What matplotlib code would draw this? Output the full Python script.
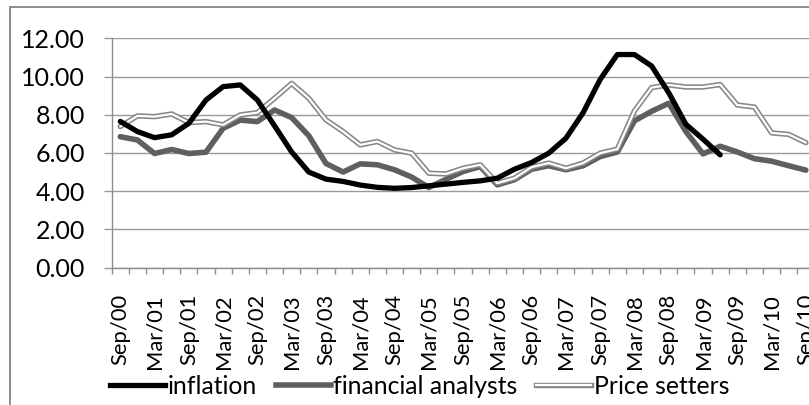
import matplotlib
matplotlib.use("Agg")
import matplotlib.pyplot as plt
import matplotlib.patches as mpatches
from matplotlib.lines import Line2D
from matplotlib.legend_handler import HandlerTuple
import numpy as np

# Quarterly observations, Sep/00 .. Sep/10
quarters = [
    "Sep/00", "Dec/00", "Mar/01", "Jun/01", "Sep/01", "Dec/01", "Mar/02", "Jun/02",
    "Sep/02", "Dec/02", "Mar/03", "Jun/03", "Sep/03", "Dec/03", "Mar/04", "Jun/04",
    "Sep/04", "Dec/04", "Mar/05", "Jun/05", "Sep/05", "Dec/05", "Mar/06", "Jun/06",
    "Sep/06", "Dec/06", "Mar/07", "Jun/07", "Sep/07", "Dec/07", "Mar/08", "Jun/08",
    "Sep/08", "Dec/08", "Mar/09", "Jun/09", "Sep/09", "Dec/09", "Mar/10", "Jun/10",
    "Sep/10",
]

inflation = [
    7.65, 7.12, 6.80, 6.95, 7.55, 8.77, 9.47, 9.56, 8.77, 7.42,
    6.05, 5.00, 4.63, 4.51, 4.32, 4.20, 4.15, 4.19, 4.28, 4.37,
    4.46, 4.54, 4.68, 5.15, 5.50, 5.99, 6.77, 8.10, 9.85, 11.15,
    11.15, 10.55, 9.15, 7.50, 6.72, 5.90,
]

financial_analysts = [
    6.85, 6.68, 5.97, 6.18, 5.97, 6.04, 7.29, 7.72, 7.64, 8.25,
    7.85, 6.90, 5.45, 5.00, 5.43, 5.38, 5.12, 4.74, 4.19, 4.62,
    5.03, 5.29, 4.33, 4.60, 5.15, 5.33, 5.12, 5.33, 5.81, 6.05,
    7.68, 8.18, 8.60, 7.12, 5.95, 6.35, 6.05, 5.70, 5.57, 5.33,
    5.10,
]

price_setters = [
    7.38, 7.94, 7.90, 8.04, 7.59, 7.64, 7.47, 7.99, 8.11, 8.86,
    9.64, 8.86, 7.73, 7.12, 6.42, 6.60, 6.16, 5.99, 4.94, 4.90,
    5.20, 5.38, 4.42, 4.68, 5.26, 5.47, 5.20, 5.47, 5.99, 6.20,
    8.20, 9.42, 9.56, 9.45, 9.45, 9.58, 8.51, 8.40, 7.05, 6.97,
    6.54,
]

y_ticks = [0, 2, 4, 6, 8, 10, 12]

plt.rcParams["font.family"] = ["Lato", "DejaVu Sans"]
FS_Y = 18.0
FS_X = 15.8
FS_LEG = 17.8

W, H = 809, 405
fig = plt.figure(figsize=(W / 100, H / 100), dpi=100)

# plot area (the category axis runs slightly past the right edge)
left_px, right_px = 111.7, 111.7 + 41 * 17.14
top_px, bottom_px = 38.3, 267.6
ax = fig.add_axes([left_px / W, 1 - bottom_px / H,
                   (right_px - left_px) / W, (bottom_px - top_px) / H])

grid_c = "#9a9a9a"
axis_c = "#8c8c8c"

x_all = np.arange(len(quarters))

ax.plot(x_all[:len(financial_analysts)], financial_analysts, color="#5f5f5f",
        lw=4.0, solid_joinstyle="round", solid_capstyle="round", zorder=3)
ax.plot(x_all[:len(price_setters)], price_setters, color="#878787",
        lw=3.9, solid_joinstyle="round", solid_capstyle="round", zorder=4)
ax.plot(x_all[:len(price_setters)], price_setters, color="white",
        lw=1.6, solid_joinstyle="round", solid_capstyle="round", zorder=5)
ax.plot(x_all[:len(inflation)], inflation, color="black",
        lw=3.8, solid_joinstyle="round", solid_capstyle="round", zorder=6)

ax.set_xlim(-0.5, len(quarters) - 0.5)
ax.set_ylim(y_ticks[0], y_ticks[-1])

ax.set_yticks(y_ticks)
ax.set_yticklabels([f"{v:.2f}" for v in y_ticks], fontsize=FS_Y)
ax.yaxis.grid(True, color=grid_c, lw=1.0)
ax.set_axisbelow(True)
ax.tick_params(axis="y", length=5.8, width=1.0, color=grid_c, pad=13.4)

# tick marks between categories, labels every second quarter
ax.set_xticks(np.arange(-0.5, len(quarters), 1.0))
ax.set_xticklabels([])
ax.tick_params(axis="x", which="major", length=4.3, width=1.0, color=axis_c)
ax.set_xticks(x_all[::2], minor=True)
ax.set_xticklabels(quarters[::2], minor=True, rotation=90, fontsize=FS_X)
ax.tick_params(axis="x", which="minor", length=0, pad=19.0)

for s in ("top", "right"):
    ax.spines[s].set_visible(False)
for s in ("left", "bottom"):
    ax.spines[s].set_color(axis_c)
    ax.spines[s].set_linewidth(1.0)

# legend
h_inf = Line2D([], [], color="black", lw=3.8)
h_fa = Line2D([], [], color="#5f5f5f", lw=4.0)
h_ps = (Line2D([], [], color="#878787", lw=3.9), Line2D([], [], color="white", lw=1.6))
fig.legend([h_inf, h_fa, h_ps], ["inflation", "financial analysts", "Price setters"],
           handler_map={tuple: HandlerTuple(ndivide=1, pad=0)},
           loc="center left", bbox_to_anchor=(110 / W, 1 - 386 / H),
           ncol=3, frameon=False, fontsize=FS_LEG, borderpad=0, borderaxespad=0,
           handlelength=2.22, handletextpad=0.12, columnspacing=0.75)

# outer chart border
fig.patches.append(mpatches.Rectangle((9.5 / W, -0.2), 1.2, 1.2 - 6.7 / H,
                                      transform=fig.transFigure, fill=False,
                                      edgecolor="#868686", lw=1.3))

fig.savefig("out.png", dpi=100)
